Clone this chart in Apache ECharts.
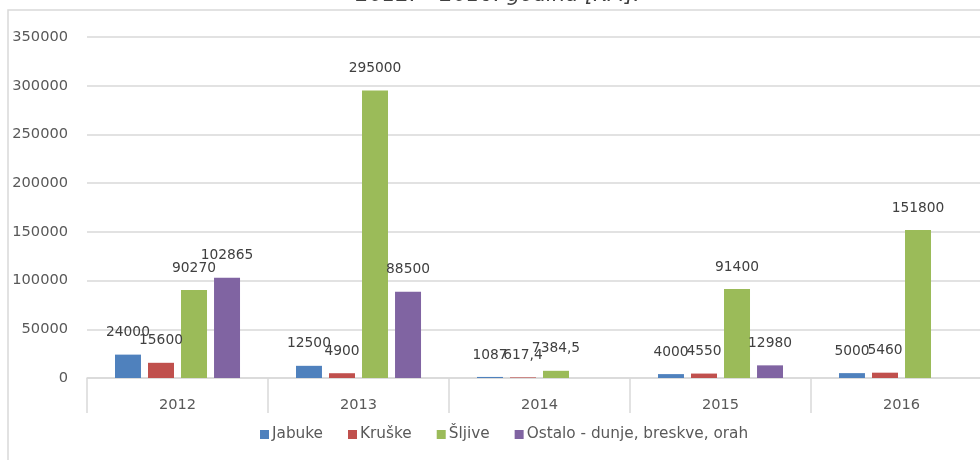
<!DOCTYPE html>
<html>
<head>
<meta charset="utf-8">
<script src="https://cdn.jsdelivr.net/npm/echarts@6/dist/echarts.min.js"></script>
<style>
  html, body { margin: 0; padding: 0; background: #fff; }
  #chart { width: 980px; height: 460px; }
</style>
</head>
<body>
<div id="chart"></div>
<script>
// podaci sa slike
const years = ['2012', '2013', '2014', '2015', '2016']
const jabuke = [24000, 12500, 1087, 4000, 5000]
const kruske = [15600, 4900, 617.4, 4550, 5460]
const sljive = [90270, 295000, 7384.5, 91400, 151800]
const ostalo = [102865, 88500, null, 12980, null]
const titleText = '2012. – 2016. godina [KM].'

const font = 'DejaVu Sans'
const colors = {
  blue: '#4f81bd',
  red: '#c0504d',
  green: '#9bbb59',
  purple: '#8064a2'
}

const chart = echarts.init(document.getElementById('chart'))

function makeSeries(name, data, color) {
  return {
    name: name,
    type: 'bar',
    data: data,
    barWidth: 26,
    barGap: '27%',
    itemStyle: { color: color },
    label: {
      show: true,
      position: 'top',
      distance: 15,
      color: '#404040',
      fontFamily: font,
      fontSize: 13.8,
      formatter: function(p) {
        if (p.value === null || p.value === undefined) return ''
        return String(p.value).replace('.', ',') // decimalni zarez
      }
    }
  }
}

chart.setOption({
  animation: false,
  backgroundColor: '#fff',
  textStyle: { fontFamily: font },
  graphic: [
    {
      type: 'rect',
      shape: { x: 8, y: 10, width: 1000, height: 500 },
      style: { fill: 'none', stroke: '#d9d9d9', lineWidth: 1.5 },
      silent: true
    },
    {
      type: 'text',
      x: 498,
      y: -4,
      style: {
        text: titleText,
        fill: '#404040',
        font: 'italic 21px "DejaVu Sans"',
        align: 'center',
        verticalAlign: 'middle'
      },
      silent: true
    }
  ],
  legend: {
    left: 255,
    top: 422,
    itemWidth: 9,
    itemHeight: 9,
    itemGap: 25,
    icon: 'rect',
    textStyle: { color: '#595959', fontFamily: font, fontSize: 15.3, padding: [0, 0, 0, -2] },
    data: ['Jabuke', 'Kruške', 'Šljive', 'Ostalo - dunje, breskve, orah']
  },
  grid: {
    left: 87,
    top: 37,
    width: 905,
    height: 341,
    outerBoundsMode: 'none'
  },
  xAxis: {
    type: 'category',
    data: years,
    boundaryGap: true,
    axisLine: { lineStyle: { color: '#d9d9d9', width: 1.5 } },
    axisTick: { show: true, length: 35, lineStyle: { color: '#d9d9d9', width: 1.5 } },
    axisLabel: { color: '#595959', fontFamily: font, fontSize: 14.6, margin: 20 }
  },
  yAxis: {
    type: 'value',
    min: 0,
    max: 350000,
    interval: 50000,
    axisLine: { show: false },
    axisTick: { show: false },
    splitLine: { lineStyle: { color: '#d9d9d9', width: 1.5 } },
    axisLabel: {
      color: '#595959',
      fontFamily: font,
      fontSize: 14.6,
      margin: 19,
      formatter: function(v) { return String(v) }
    }
  },
  series: [
    makeSeries('Jabuke', jabuke, colors.blue),
    makeSeries('Kruške', kruske, colors.red),
    makeSeries('Šljive', sljive, colors.green),
    makeSeries('Ostalo - dunje, breskve, orah', ostalo, colors.purple)
  ]
})
</script>
</body>
</html>
